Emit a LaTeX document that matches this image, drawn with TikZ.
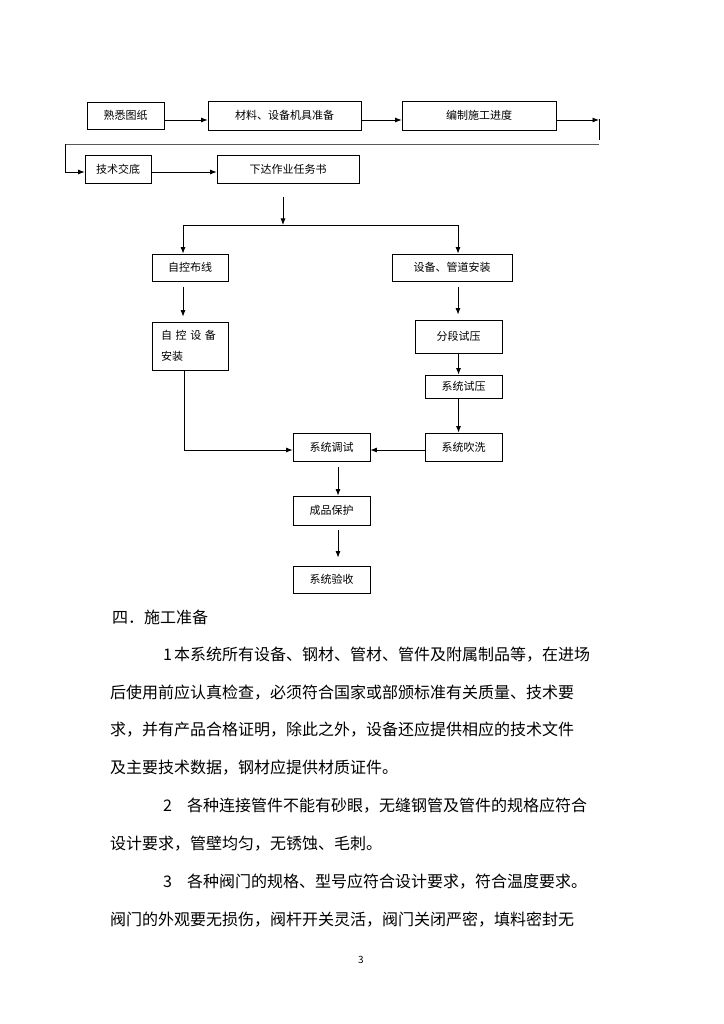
\documentclass[tikz,border=0pt]{standalone}
\usepackage{fontspec}
\setmainfont{Noto Sans CJK SC}
\usetikzlibrary{arrows.meta}
\begin{document}
\begin{tikzpicture}[x=1pt,y=-1pt,
  box/.style={draw,line width=0.8pt,inner sep=0pt,font=\fontsize{11}{13}\selectfont},
  arr/.style={line width=0.8pt,-{Latex[length=6.5pt,width=5pt]}},
  ln/.style={line width=0.8pt},
  body/.style={anchor=west,inner sep=0pt,font=\fontsize{16}{18}\selectfont}]
\useasboundingbox (0,0) rectangle (723,1024);
\fill[white] (0,0) rectangle (723,1024);
% boxes
\node[box,minimum width=77pt,minimum height=27pt] (a) at (125.5,115.5) {熟悉图纸};
\node[box,minimum width=153pt,minimum height=29pt] (b) at (284.5,115.5) {材料、设备机具准备};
\node[box,minimum width=154pt,minimum height=29pt] (c) at (479,115.5) {编制施工进度};
\node[box,minimum width=66pt,minimum height=28pt] (d) at (118,169) {技术交底};
\node[box,minimum width=142pt,minimum height=28pt] (e) at (288,169) {下达作业任务书};
\node[box,minimum width=76pt,minimum height=27pt] (f) at (190,267.5) {自控布线};
\node[box,minimum width=120pt,minimum height=27pt] (g) at (452,267.5) {设备、管道安装};
\node[box,minimum width=76pt,minimum height=48pt,text width=58pt,align=left,font=\fontsize{11}{21}\selectfont] (h) at (190,346) {自 控 设 备\\安装};
\node[box,minimum width=87pt,minimum height=33pt] (i) at (458.5,336.5) {分段试压};
\node[box,minimum width=77pt,minimum height=23pt] (j) at (463.5,386.5) {系统试压};
\node[box,minimum width=77pt,minimum height=28pt] (k) at (463.5,447) {系统吹洗};
\node[box,minimum width=77pt,minimum height=28pt] (l) at (331.5,447) {系统调试};
\node[box,minimum width=77pt,minimum height=29pt] (m) at (331.5,510.5) {成品保护};
\draw[line width=1.8pt] (m.south west) -- (m.south east);
\node[box,minimum width=77pt,minimum height=27pt] (n) at (331.5,579.5) {系统验收};
% top row connectors
\draw[arr] ([yshift=-4.5pt]a.east) -- ([yshift=-4.5pt]b.west);
\draw[arr] ([yshift=-4.5pt]b.east) -- ([yshift=-4.5pt]c.west);
\coordinate (r1) at (599,120);
\coordinate (r2) at (599,144);
\coordinate (r3) at (65,144);
\draw[arr] ([yshift=-4.5pt]c.east) -- (r1);
\draw[ln] (599,119) -- (599,140);
\draw[line width=0.9pt,black!65] (r2) -- (r3);
\draw[arr] (r3) |- ([yshift=-3pt]d.west);
\draw[arr] ([yshift=-3pt]d.east) -- ([yshift=-3pt]e.west);
% split
\coordinate (s1) at (283,197);
\coordinate (s2) at (283,225);
\coordinate (sl) at (183,225);
\coordinate (sr) at (458,225);
\draw[arr] (s1) -- (s2);
\draw[ln] (sl) -- (sr);
\draw[arr] (sl) -- (sl |- f.north);
\draw[arr] (sr) -- (sr |- g.north);
% left branch
\draw[arr] ([xshift=-7pt,yshift=-6pt]f.south) -- ([xshift=-7pt,yshift=5pt]h.north);
\draw[arr] ([xshift=-6pt]h.south) |- ([yshift=-3pt]l.west);
% right branch
\draw[arr] ([xshift=6pt,yshift=-6pt]g.south) -- ([xshift=6pt,yshift=5pt]g.south |- i.north);
\draw[arr] (i.south) -- (i.south |- j.north);
\draw[arr] (j.south -| i.south) -- (k.north -| i.south);
\draw[arr] ([yshift=-3pt]k.west) -- ([yshift=-3pt]l.east);
% bottom
\draw[arr] ([xshift=6.5pt,yshift=-6pt]l.south) -- ([xshift=6.5pt]m.north);
\draw[arr] ([xshift=6.5pt,yshift=-5pt]m.south) -- ([xshift=6.5pt,yshift=8pt]n.north);
% body text
\node[body] (t0) at (112,617) {四．施工准备};
\node[body] (t1) at (163,655) {1\hspace{2pt}本系统所有设备、钢材、管材、管件及附属制品等，在进场};
\node[body] (t2) at (110,693) {后使用前应认真检查，必须符合国家或部颁标准有关质量、技术要};
\node[body] (t3) at (110,730) {求，并有产品合格证明，除此之外，设备还应提供相应的技术文件};
\node[body] (t4) at (110,768) {及主要技术数据，钢材应提供材质证件。};
\node[body] (t5) at (163,806) {2\hspace{15pt}各种连接管件不能有砂眼，无缝钢管及管件的规格应符合};
\node[body] (t6) at (110,844) {设计要求，管壁均匀，无锈蚀、毛刺。};
\node[body] (t7) at (163,882) {3\hspace{15pt}各种阀门的规格、型号应符合设计要求，符合温度要求。};
\node[body] (t8) at (110,920) {阀门的外观要无损伤，阀杆开关灵活，阀门关闭严密，填料密封无};
\node[inner sep=0pt,font=\fontsize{10}{12}\selectfont] (pg) at (361,960) {3};
\end{tikzpicture}
\end{document}
